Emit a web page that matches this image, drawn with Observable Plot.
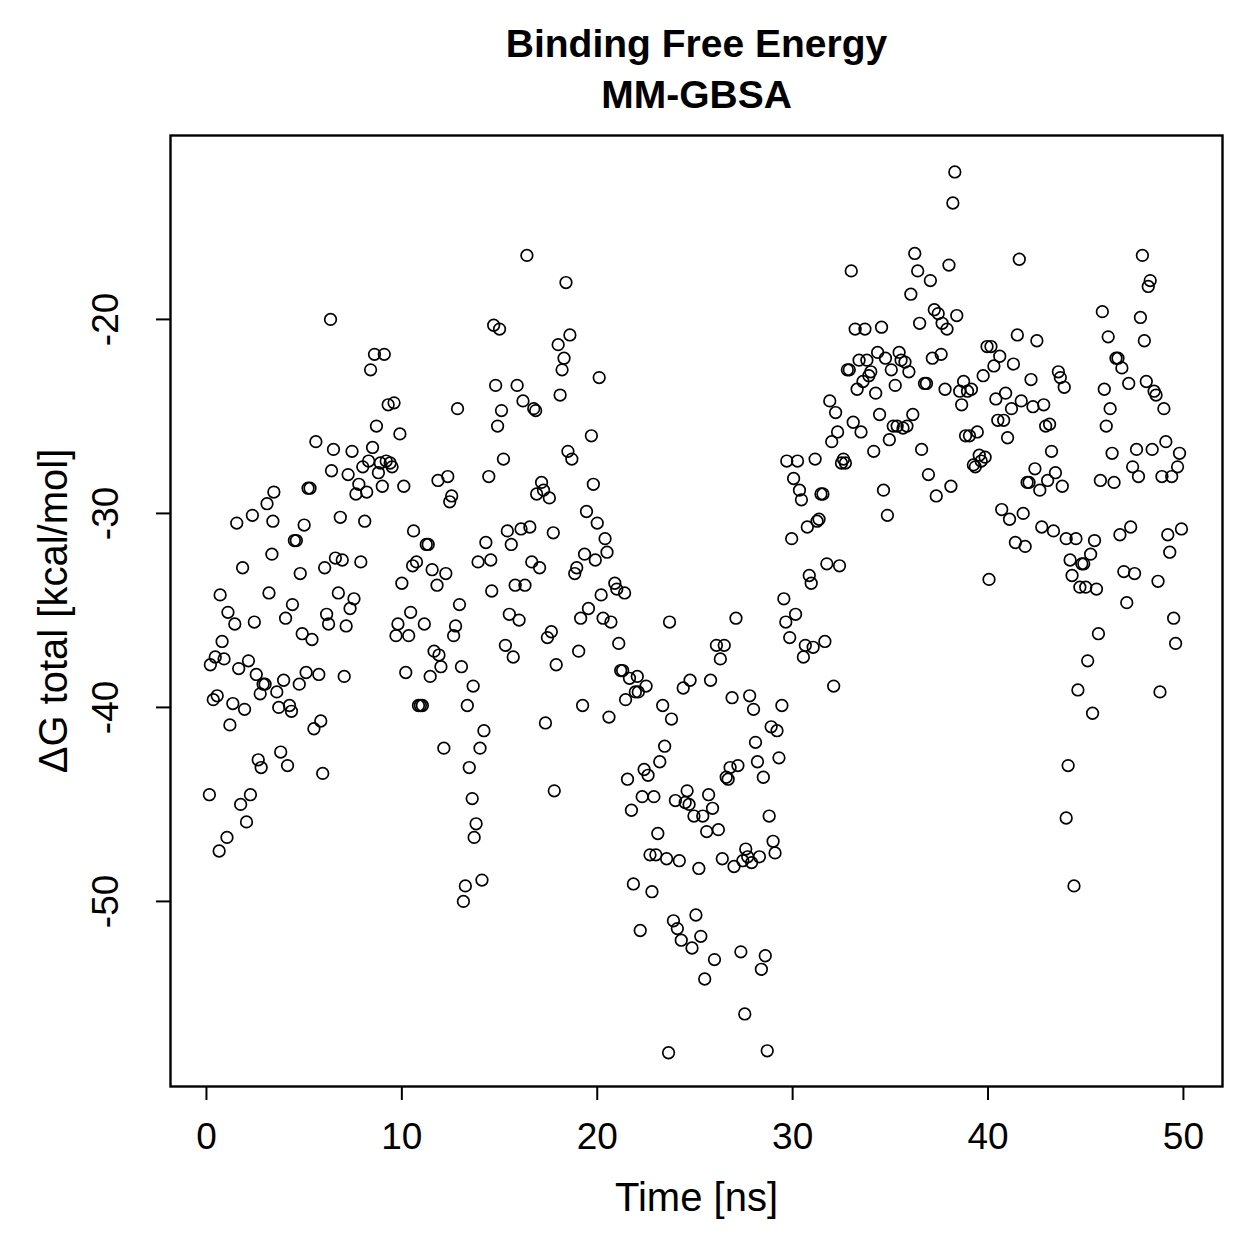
<!DOCTYPE html>
<html>
<head>
<meta charset="utf-8">
<script src="https://cdn.jsdelivr.net/npm/d3@7"></script>
<script src="https://cdn.jsdelivr.net/npm/@observablehq/plot@0.6"></script>
<style>
  html, body { margin: 0; padding: 0; background: #fff; }
  #chart svg { display: block; }
</style>
</head>
<body>
<div id="chart"></div>
<script>
const titleLines = ["Binding Free Energy", "MM-GBSA"];
const xLabel = "Time [ns]";
const yLabel = "ΔG total [kcal/mol]";
const xTicks = [0, 10, 20, 30, 40, 50];
const yTicks = [-50, -40, -30, -20];

const time = [
  0.15,0.2,0.35,0.45,0.55,0.65,0.7,0.8,0.9,1.05,
  1.1,1.2,1.35,1.45,1.55,1.65,1.75,1.85,1.95,2.05,
  2.15,2.25,2.35,2.45,2.55,2.65,2.75,2.8,2.9,3.0,
  3.1,3.2,3.35,3.4,3.45,3.6,3.7,3.8,3.95,4.05,
  4.15,4.25,4.35,4.4,4.5,4.6,4.75,4.8,4.9,5.0,
  5.1,5.2,5.3,5.4,5.5,5.6,5.75,5.85,5.95,6.05,
  6.15,6.25,6.35,6.4,6.5,6.6,6.75,6.85,6.95,7.05,
  7.15,7.25,7.35,7.45,7.55,7.65,7.8,7.9,8.0,8.1,
  8.2,8.3,8.4,8.5,8.6,8.7,8.8,8.9,9.0,9.1,
  9.2,9.3,9.4,9.5,9.6,9.7,9.8,9.9,10.0,10.1,
  10.2,10.35,10.45,10.55,10.6,10.75,10.85,10.95,11.05,11.15,
  11.25,11.35,11.45,11.55,11.65,11.8,11.85,11.9,12.0,12.15,
  12.25,12.35,12.45,12.55,12.65,12.75,12.85,12.95,13.05,13.15,
  13.25,13.35,13.45,13.6,13.65,13.7,13.8,13.9,14.0,14.1,
  14.2,14.3,14.45,14.55,14.6,14.7,14.8,14.9,15.0,15.1,
  15.2,15.3,15.4,15.5,15.6,15.7,15.8,15.9,16.0,16.1,
  16.2,16.3,16.4,16.55,16.65,16.75,16.85,16.9,17.05,17.15,
  17.25,17.35,17.45,17.55,17.65,17.75,17.8,17.9,18.0,18.1,
  18.2,18.3,18.4,18.5,18.6,18.7,18.85,18.95,19.05,19.15,
  19.25,19.35,19.45,19.55,19.7,19.8,19.9,20.0,20.1,
  20.2,20.3,20.4,20.5,20.6,20.7,20.9,21.0,21.1,21.2,
  21.3,21.4,21.45,21.55,21.65,21.75,21.85,21.95,22.05,22.1,
  22.2,22.3,22.4,22.5,22.6,22.7,22.8,22.9,23.0,23.1,
  23.2,23.35,23.45,23.55,23.65,23.7,23.8,23.9,24.0,24.1,
  24.2,24.3,24.4,24.5,24.6,24.7,24.75,24.85,24.95,25.05,
  25.2,25.3,25.4,25.5,25.6,25.7,25.8,25.9,26.0,26.1,
  26.2,26.3,26.4,26.5,26.6,26.7,26.8,26.9,27.0,27.1,
  27.2,27.35,27.45,27.55,27.6,27.7,27.8,27.9,28.0,28.1,
  28.2,28.3,28.4,28.5,28.6,28.7,28.8,28.9,29.0,29.1,
  29.2,29.3,29.45,29.55,29.65,29.7,29.85,29.95,30.05,30.15,
  30.25,30.35,30.45,30.55,30.65,30.75,30.85,30.95,31.05,31.15,
  31.25,31.35,31.45,31.55,31.65,31.75,31.9,32.0,32.1,32.2,
  32.3,32.4,32.5,32.6,32.7,32.8,32.9,33.0,33.1,33.2,
  33.3,33.4,33.5,33.6,33.7,33.8,33.9,34.0,34.15,34.25,
  34.35,34.45,34.55,34.65,34.75,34.85,34.95,35.05,35.15,35.25,
  35.35,35.45,35.55,35.65,35.75,35.85,35.95,36.05,36.15,36.25,
  36.4,36.5,36.6,36.75,36.85,36.95,37.05,37.15,37.25,37.35,
  37.45,37.6,37.65,37.8,37.9,38.0,38.1,38.2,38.3,38.4,
  38.55,38.65,38.75,38.85,38.95,39.05,39.15,39.25,39.35,39.45,
  39.55,39.65,39.75,39.85,39.95,40.05,40.15,40.3,40.4,40.5,
  40.6,40.7,40.8,40.9,41.0,41.1,41.2,41.3,41.4,41.5,
  41.6,41.7,41.8,41.9,42.0,42.1,42.2,42.3,42.4,42.5,
  42.65,42.75,42.85,42.95,43.05,43.15,43.25,43.35,43.45,43.6,
  43.7,43.8,43.9,44.0,44.0,44.1,44.2,44.3,44.4,44.5,
  44.6,44.7,44.8,44.9,45.0,45.1,45.25,45.35,45.45,45.55,
  45.65,45.75,45.85,45.95,46.05,46.15,46.25,46.35,46.45,46.55,
  46.65,46.75,46.85,46.95,47.1,47.2,47.3,47.4,47.5,47.6,
  47.7,47.8,47.9,48.0,48.1,48.2,48.3,48.4,48.5,48.6,
  48.7,48.8,48.9,49.0,49.1,49.2,49.3,49.4,49.5,49.6,
  49.7,49.8,49.9
];

const dG = [
  -44.5,-37.8,-39.6,-37.4,-39.4,-47.4,-34.2,-36.6,-37.5,-46.7,
  -35.1,-40.9,-39.8,-35.7,-30.5,-38.0,-45.0,-32.8,-40.1,-45.9,
  -37.6,-44.5,-30.1,-35.6,-38.3,-42.7,-39.3,-43.1,-38.8,-38.8,
  -29.5,-34.1,-32.1,-30.4,-28.9,-39.2,-40.0,-42.3,-38.6,-35.4,
  -43.0,-39.9,-40.2,-34.7,-31.4,-31.4,-38.8,-33.1,-36.2,-30.6,
  -38.2,-28.7,-28.7,-36.5,-41.1,-26.3,-38.3,-40.7,-43.4,-32.8,
  -35.2,-35.7,-20.0,-27.8,-26.7,-32.3,-34.1,-30.2,-32.4,-38.4,
  -35.8,-28.0,-34.9,-26.8,-34.4,-29.0,-28.5,-32.5,-27.6,-30.4,
  -28.9,-27.3,-22.6,-26.6,-21.8,-25.5,-27.9,-27.4,-28.6,-21.8,
  -27.3,-24.4,-27.4,-27.6,-24.3,-36.3,-35.7,-25.9,-33.6,-28.6,
  -38.2,-36.3,-35.1,-32.7,-30.9,-32.5,-39.9,-39.9,-39.9,-35.7,
  -31.6,-31.6,-38.4,-32.9,-37.1,-33.7,-28.3,-37.3,-37.9,-42.1,
  -33.1,-28.1,-29.4,-29.1,-36.3,-35.8,-24.6,-34.7,-37.9,-50.0,
  -49.2,-39.9,-43.1,-44.7,-38.9,-46.7,-46.0,-32.5,-42.1,-48.9,
  -41.2,-31.5,-28.1,-32.4,-34.0,-20.3,-23.4,-25.5,-20.5,-24.7,
  -27.2,-36.8,-30.9,-35.2,-31.6,-37.4,-33.7,-23.4,-35.5,-30.8,
  -24.2,-33.7,-16.7,-30.7,-32.5,-24.6,-24.7,-29.0,-32.8,-28.4,
  -28.8,-40.8,-36.4,-29.2,-36.1,-31.0,-44.3,-37.8,-21.3,-23.9,
  -22.6,-22.0,-18.1,-26.8,-20.8,-27.2,-33.1,-32.8,-37.1,-35.4,
  -39.9,-32.1,-29.9,-34.9,-26.0,-28.5,-32.4,-30.5,-23.0,
  -34.2,-35.4,-31.3,-32.0,-40.5,-35.6,-33.6,-33.9,-36.7,-38.1,
  -38.1,-34.1,-39.6,-43.7,-38.5,-45.3,-49.1,-39.2,-38.4,-39.2,
  -51.5,-44.6,-43.2,-38.9,-43.5,-47.6,-49.5,-44.6,-47.6,-46.5,
  -42.8,-39.9,-42.0,-47.8,-57.8,-35.6,-40.6,-51.0,-44.8,-51.4,
  -47.9,-52.0,-39.0,-44.9,-44.3,-45.0,-38.6,-52.4,-45.6,-50.7,
  -48.3,-51.8,-45.6,-54.0,-46.4,-44.5,-38.6,-45.2,-53.0,-36.8,
  -46.3,-37.5,-47.8,-36.8,-43.6,-43.7,-43.1,-39.5,-48.2,-35.4,
  -43.0,-52.6,-47.9,-55.8,-47.3,-47.7,-39.4,-48.0,-40.1,-41.8,
  -42.8,-47.7,-53.5,-43.6,-52.8,-57.7,-45.6,-41.0,-46.9,-47.5,
  -41.2,-42.6,-39.9,-34.4,-35.6,-27.3,-36.4,-31.3,-28.2,-35.2,
  -27.3,-28.8,-29.3,-37.4,-36.8,-30.7,-33.2,-33.6,-36.9,-27.2,
  -30.4,-30.3,-29.0,-29.0,-36.6,-32.6,-24.2,-26.3,-38.9,-24.8,
  -25.8,-32.7,-27.4,-27.2,-27.4,-22.6,-22.6,-17.5,-25.3,-20.5,
  -23.6,-22.1,-25.8,-23.2,-20.5,-22.1,-22.9,-22.7,-26.8,-23.8,
  -21.7,-24.9,-20.4,-28.8,-22.0,-30.1,-26.2,-22.6,-25.5,-23.4,
  -25.5,-21.7,-22.1,-25.6,-22.2,-25.5,-22.7,-18.7,-24.9,-16.6,
  -17.5,-20.2,-26.7,-23.3,-23.3,-28.0,-18.0,-22.0,-19.5,-29.1,
  -19.7,-21.8,-20.2,-23.6,-20.5,-17.2,-28.6,-14.0,-12.4,-19.8,
  -23.7,-24.4,-23.2,-26.0,-23.7,-26.0,-23.6,-27.5,-27.6,-25.8,
  -27.0,-27.3,-22.9,-27.1,-21.4,-33.4,-21.4,-22.4,-24.1,-25.2,
  -21.9,-29.8,-25.2,-23.8,-26.1,-30.3,-24.6,-22.3,-31.5,-20.8,
  -16.9,-24.2,-30.0,-31.7,-28.4,-28.4,-23.1,-24.5,-27.7,-21.1,
  -28.8,-30.7,-24.4,-25.5,-28.3,-25.4,-26.8,-30.9,-27.9,-22.7,
  -23.0,-28.6,-23.5,-31.3,-45.7,-43.0,-32.4,-33.2,-49.2,-31.3,
  -39.1,-33.8,-32.6,-32.6,-33.8,-37.6,-32.1,-40.3,-31.4,-33.9,
  -36.2,-28.3,-19.6,-23.6,-25.5,-20.9,-24.6,-26.9,-28.4,-22.0,
  -22.0,-31.1,-22.5,-33.0,-34.6,-23.3,-30.7,-27.6,-33.1,-26.7,
  -28.1,-19.9,-16.7,-21.1,-23.2,-18.3,-18.0,-26.7,-23.7,-23.9,
  -33.5,-39.2,-28.1,-24.6,-26.3,-31.1,-32.0,-28.1,-35.4,-36.7,
  -27.6,-26.9,-30.8
];

const n = Math.min(time.length, dG.length);
const data = d3.range(n).map(i => ({t: time[i], g: dG[i]}));

const font = "'Liberation Sans', Arial, Helvetica, sans-serif";

const chart = Plot.plot({
  width: 1259,
  height: 1259,
  marginLeft: 170,
  marginRight: 37,
  marginTop: 135,
  marginBottom: 173,
  style: {fontFamily: font, background: "#fff", color: "#000"},
  x: {domain: [-1.84, 52.0], label: null},
  y: {domain: [-59.54, -10.52], label: null},
  marks: [
    Plot.frame({stroke: "#000", strokeWidth: 2.4}),
    Plot.dot(data, {x: "t", y: "g", r: 5.8, stroke: "#000", strokeWidth: 1.7, fill: "none"}),
    Plot.axisX({ticks: xTicks, tickSize: 14, tickPadding: 22, fontSize: 37, stroke: "#000", strokeWidth: 2, tickFormat: d => String(d)}),
    Plot.axisY({ticks: yTicks, tickSize: 14, tickFormat: () => "", stroke: "#000", strokeWidth: 2}),
    Plot.text(yTicks, {y: d => d, text: d => String(d), frameAnchor: "left", dx: -64, rotate: -90, textAnchor: "middle", fontSize: 37, fill: "#000"}),
    Plot.text([xLabel], {text: d => d, frameAnchor: "bottom", dy: 124, textAnchor: "middle", fontSize: 40, fill: "#000"}),
    Plot.text([yLabel], {text: d => d, frameAnchor: "left", dx: -116, rotate: -90, textAnchor: "middle", fontSize: 40, fill: "#000"}),
    Plot.text([titleLines[0]], {text: d => d, frameAnchor: "top", dy: -106, textAnchor: "middle", fontSize: 39, fontWeight: "bold", fill: "#000"}),
    Plot.text([titleLines[1]], {text: d => d, frameAnchor: "top", dy: -55, textAnchor: "middle", fontSize: 39, fontWeight: "bold", fill: "#000"})
  ]
});
document.getElementById("chart").appendChild(chart);
</script>
</body>
</html>
